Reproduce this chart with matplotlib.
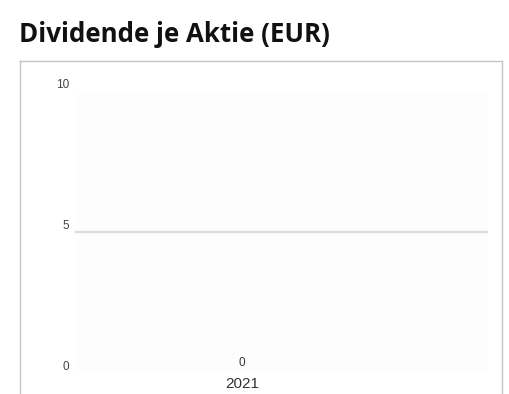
import matplotlib
matplotlib.use("Agg")
import matplotlib.pyplot as plt
from matplotlib.lines import Line2D

# Data
years = ["2021"]
dividends = [0]
ytick_values = [0, 5, 10]
ytick_labels = ["0", "5", "10"]
title = "Dividende je Aktie (EUR)"

W, H = 510, 394
fig = plt.figure(figsize=(W / 100, H / 100), dpi=100)
fig.patch.set_facecolor("white")

# Panel frame (open at the bottom)
frame_color = "#c4c4c4"
x0, x1, ytop = 19.5 / W, 502.5 / W, 1 - 60.5 / H
for xs, ys in [((x0, x0), (0, ytop)), ((x0, x1), (ytop, ytop)), ((x1, x1), (ytop, 0))]:
    fig.add_artist(Line2D(xs, ys, transform=fig.transFigure, color=frame_color, lw=1.0))

fig.text(19 / W, 1 - 35 / H, title, fontsize=18.6, fontweight="bold",
         family=["Open Sans", "DejaVu Sans"], va="center", ha="left", color="#111111")

ax = fig.add_axes([75 / W, 21 / H, 413 / W, 282 / H])
ax.set_facecolor("#fdfdfd")
for s in ax.spines.values():
    s.set_visible(False)

x = list(range(len(years)))
bars = ax.bar(x, dividends, width=0.6, color="#2f5597")
ax.set_xlim(-0.81, 1.19)
ax.set_ylim(0, 10)

ax.axhline(5, color="#dcdcdc", lw=1.6, zorder=0)

ax.set_yticks(ytick_values)
ax.set_yticklabels(ytick_labels, family="Liberation Sans", fontsize=8.5, color="#444444")
for lbl in ax.get_yticklabels():
    lbl.set_verticalalignment("bottom")
ax.tick_params(axis="y", length=0, pad=4)

ax.set_xticks(x)
ax.set_xticklabels(years, family="Liberation Sans", fontsize=11, color="#333333")
ax.tick_params(axis="x", length=0, pad=3)

for xi, v in zip(x, dividends):
    ax.annotate(f"{v:g}", (xi, v), xytext=(0, 3), textcoords="offset points",
                ha="center", va="bottom", fontsize=8.5, family="Liberation Sans",
                color="#333333")

fig.savefig("out.png", dpi=100)
